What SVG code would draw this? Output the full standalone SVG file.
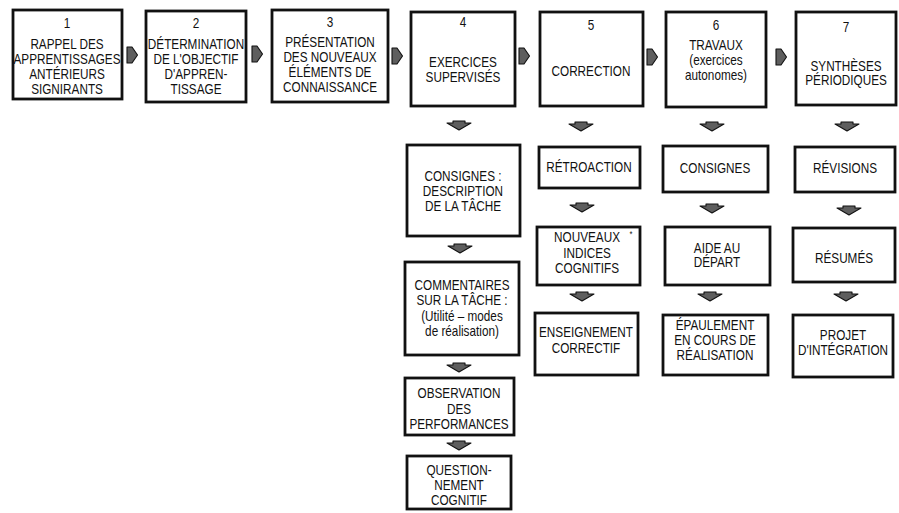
<svg xmlns="http://www.w3.org/2000/svg" xmlns:xlink="http://www.w3.org/1999/xlink" width="899" height="513" viewBox="0 0 899 513">
<style>
  .box { fill: #fff; stroke: #111; stroke-width: 2.8; }
  text { font-family: "Liberation Sans", Arial, sans-serif; font-size: 14px; fill: #111; text-anchor: middle; transform-box: fill-box; transform-origin: center; transform: scaleX(0.84); }
  .arr { fill: #5e5e5e; stroke: #111; stroke-width: 1.1; stroke-linejoin: round; }
</style>
<defs>
  <path id="ra" class="arr" d="M0,-8 L5,-8 L10.5,0 L5,8 L0,8 Z"/>
  <path id="da" class="arr" d="M-6,0 L6,0 L6,2 L12,2 L0,9 L-12,2 L-6,2 Z"/>
</defs>
<rect width="899" height="513" fill="#fff"/>

<g id="n1">
  <rect class="box" x="13" y="10" width="109" height="89"/>
  <text x="67" y="28">1</text>
  <text x="67" y="49">RAPPEL DES</text>
  <text x="67" y="64">APPRENTISSAGES</text>
  <text x="67" y="79">ANTÉRIEURS</text>
  <text x="67" y="94">SIGNIRANTS</text>
</g>
<g id="n2">
  <rect class="box" x="146" y="11" width="100" height="91"/>
  <text x="196" y="28">2</text>
  <text x="196" y="49">DÉTERMINATION</text>
  <text x="196" y="64">DE L'OBJECTIF</text>
  <text x="196" y="79">D'APPREN-</text>
  <text x="196" y="94">TISSAGE</text>
</g>
<g id="n3">
  <rect class="box" x="272" y="10" width="116" height="92"/>
  <text x="330" y="27">3</text>
  <text x="330" y="47">PRÉSENTATION</text>
  <text x="330" y="62">DES NOUVEAUX</text>
  <text x="330" y="77">ÉLÉMENTS DE</text>
  <text x="330" y="92">CONNAISSANCE</text>
</g>
<g id="n4">
  <rect class="box" x="411" y="12" width="104" height="94"/>
  <text x="463" y="27">4</text>
  <text x="463" y="67">EXERCICES</text>
  <text x="463" y="82">SUPERVISÉS</text>
</g>
<g id="n5">
  <rect class="box" x="540" y="12" width="103" height="94"/>
  <text x="591" y="30">5</text>
  <text x="591" y="76">CORRECTION</text>
</g>
<g id="n6">
  <rect class="box" x="666" y="12" width="100" height="95"/>
  <text x="716" y="30">6</text>
  <text x="716" y="50">TRAVAUX</text>
  <text x="716" y="65">(exercices</text>
  <text x="716" y="80">autonomes)</text>
</g>
<g id="n7">
  <rect class="box" x="796" y="12" width="100" height="93"/>
  <text x="846" y="32">7</text>
  <text x="846" y="71">SYNTHÈSES</text>
  <text x="846" y="85">PÉRIODIQUES</text>
</g>

<g id="n4a">
  <rect class="box" x="407" y="145" width="113" height="91"/>
  <text x="463" y="181">CONSIGNES :</text>
  <text x="463" y="196">DESCRIPTION</text>
  <text x="463" y="211">DE LA TÂCHE</text>
</g>
<g id="n4b">
  <rect class="box" x="405" y="262" width="114" height="93"/>
  <text x="462" y="290">COMMENTAIRES</text>
  <text x="462" y="305">SUR LA TÂCHE :</text>
  <text x="462" y="321">(Utilité – modes</text>
  <text x="462" y="336">de réalisation)</text>
</g>
<g id="n4c">
  <rect class="box" x="405" y="378" width="109" height="57"/>
  <text x="459" y="398">OBSERVATION</text>
  <text x="459" y="414">DES</text>
  <text x="459" y="429">PERFORMANCES</text>
</g>
<g id="n4d">
  <rect class="box" x="407" y="456" width="104" height="53"/>
  <text x="459" y="475">QUESTION-</text>
  <text x="459" y="490">NEMENT</text>
  <text x="459" y="505">COGNITIF</text>
</g>

<g id="n5a">
  <rect class="box" x="539" y="147" width="101" height="41"/>
  <text x="589" y="172">RÉTROACTION</text>
</g>
<g id="n5b">
  <rect class="box" x="537" y="227" width="103" height="58"/>
  <text x="587" y="242">NOUVEAUX</text>
  <text x="631" y="237" style="font-size:9px">*</text>
  <text x="587" y="258">INDICES</text>
  <text x="587" y="273">COGNITIFS</text>
</g>
<g id="n5c">
  <rect class="box" x="535" y="313" width="103" height="62"/>
  <text x="586" y="337">ENSEIGNEMENT</text>
  <text x="586" y="353">CORRECTIF</text>
</g>

<g id="n6a">
  <rect class="box" x="663" y="146" width="105" height="46"/>
  <text x="715" y="173">CONSIGNES</text>
</g>
<g id="n6b">
  <rect class="box" x="665" y="227" width="105" height="58"/>
  <text x="717" y="253">AIDE AU</text>
  <text x="717" y="267">DÉPART</text>
</g>
<g id="n6c">
  <rect class="box" x="663" y="315" width="105" height="60"/>
  <text x="715" y="330">ÉPAULEMENT</text>
  <text x="715" y="345">EN COURS DE</text>
  <text x="715" y="360">RÉALISATION</text>
</g>

<g id="n7a">
  <rect class="box" x="795" y="147" width="100" height="45"/>
  <text x="845" y="173">RÉVISIONS</text>
</g>
<g id="n7b">
  <rect class="box" x="793" y="228" width="102" height="54"/>
  <text x="844" y="263">RÉSUMÉS</text>
</g>
<g id="n7c">
  <rect class="box" x="793" y="315" width="100" height="62"/>
  <text x="843" y="340">PROJET</text>
  <text x="843" y="355">D'INTÉGRATION</text>
</g>

<g id="connectors">
  <use xlink:href="#ra" x="127" y="55"/>
  <use xlink:href="#ra" x="252" y="54"/>
  <use xlink:href="#ra" x="392" y="56"/>
  <use xlink:href="#ra" x="519" y="56"/>
  <use xlink:href="#ra" x="647" y="57"/>
  <use xlink:href="#ra" x="776" y="57"/>

  <use xlink:href="#da" x="459" y="121"/>
  <use xlink:href="#da" x="460" y="244"/>
  <use xlink:href="#da" x="459" y="363"/>
  <use xlink:href="#da" x="459" y="441"/>

  <use xlink:href="#da" x="581" y="122"/>
  <use xlink:href="#da" x="582" y="203"/>
  <use xlink:href="#da" x="582" y="292"/>

  <use xlink:href="#da" x="712" y="122"/>
  <use xlink:href="#da" x="712" y="204"/>
  <use xlink:href="#da" x="710" y="292"/>

  <use xlink:href="#da" x="847" y="122"/>
  <use xlink:href="#da" x="849" y="206"/>
  <use xlink:href="#da" x="846" y="292"/>
</g>
</svg>
